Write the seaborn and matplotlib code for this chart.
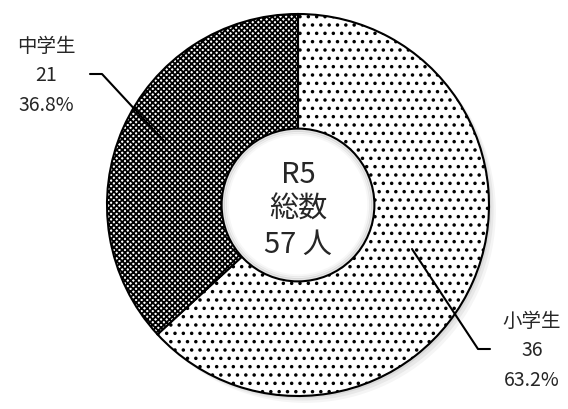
import matplotlib
matplotlib.use("Agg")
import matplotlib.pyplot as plt
from matplotlib.patches import Circle
import seaborn as sns

# data
labels = ["小学生", "中学生"]
counts = [36, 21]
hatches = ["..", "xxxxxx"]
year_label = "R5"
total = sum(counts)

sns.set_theme(style="white")
plt.rcParams["font.family"] = ["Noto Sans CJK JP", "DejaVu Sans"]
plt.rcParams["hatch.linewidth"] = 1.3

# pixel layout helpers (center of the ring and its radius in px)
W, H = 568, 410
CX, CY, R = 298, 206, 191


def px(x, y):
    return (x - CX) / R, (CY - y) / R


fig = plt.figure(figsize=(W / 100, H / 100), dpi=100)
ax = fig.add_axes([0, 0, 1, 1])

# soft shadow under the ring
for i, a in enumerate([0.06, 0.05, 0.04]):
    ax.add_patch(Circle((0.012 * (i + 1), -0.012 * (i + 1)), 1.0, color="black", alpha=a, lw=0, zorder=0))

wedges, _ = ax.pie(counts, startangle=90, counterclock=False, radius=1.0,
                   colors=["white", "white"],
                   wedgeprops=dict(edgecolor="black", linewidth=1.5))
for w, h in zip(wedges, hatches):
    w.set_hatch(h)
    w.set_zorder(2)

# pie() resets the limits, so set them afterwards
ax.set_xlim(-CX / R, (W - CX) / R)
ax.set_ylim((CY - H) / R, CY / R)
ax.set_aspect("equal")
ax.axis("off")

# center hole with a soft inner shadow
hole_r = 0.40
ax.add_patch(Circle((0, 0), hole_r, facecolor="white", edgecolor="black", lw=1.5, zorder=5))
for k, a in enumerate([0.10, 0.06, 0.03]):
    ax.add_patch(Circle((0, 0), hole_r - 0.01 * (k + 1), fill=False, edgecolor="black", alpha=a, lw=2, zorder=6))
ax.text(*px(298, 210), f"{year_label}\n総数\n{total} 人", ha="center", va="center",
        fontsize=21, linespacing=1.2, zorder=7)

# labels and leader lines
label_pos = [(532, 351), (46, 76)]
line_pts = [[(412, 250), (478, 350), (490, 350)],
            [(165, 143), (102, 75), (90, 75)]]
for lab, c, lp, pts in zip(labels, counts, label_pos, line_pts):
    pct = c / total * 100
    ax.text(*px(*lp), f"{lab}\n{c}\n{pct:.1f}%", ha="center", va="center",
            fontsize=14, linespacing=1.55, zorder=8)
    xs, ys = zip(*[px(*p) for p in pts])
    ax.plot(xs, ys, color="black", lw=1.5, zorder=8)

fig.savefig("out.png", dpi=100, facecolor="white")
